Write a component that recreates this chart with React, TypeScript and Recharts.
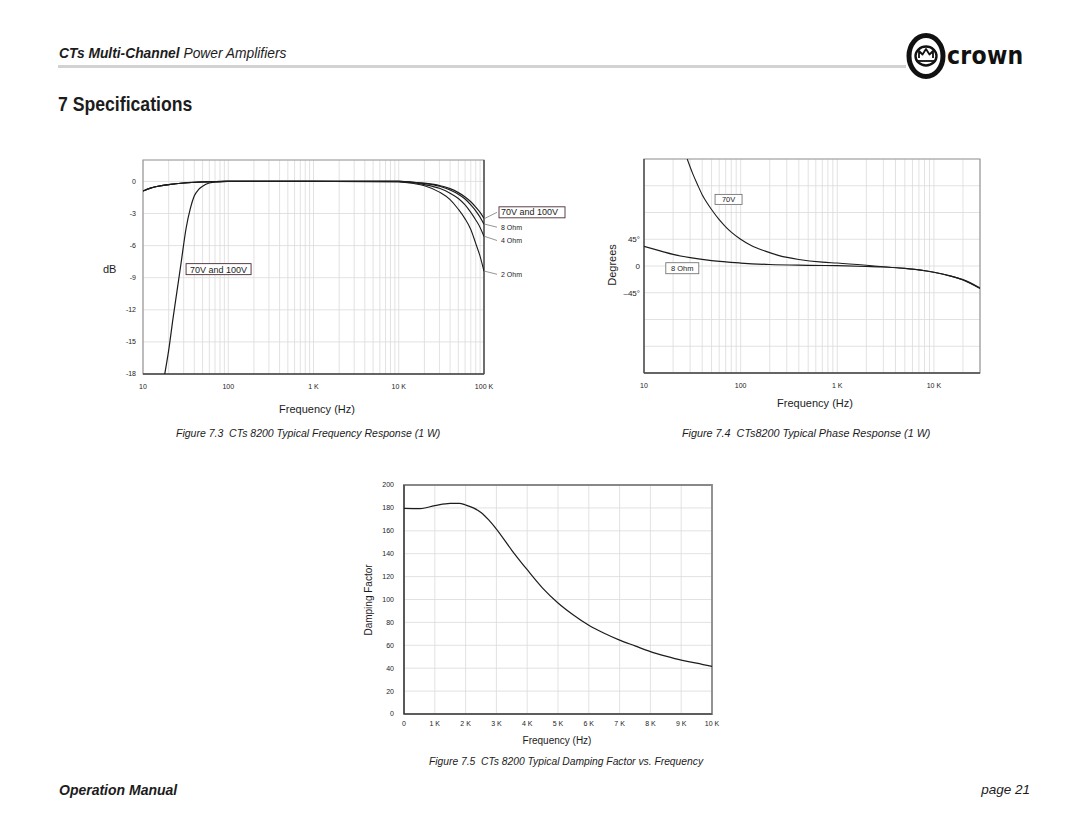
import { LineChart, Line, XAxis, YAxis, CartesianGrid, ReferenceArea, ReferenceDot, ReferenceLine } from 'recharts';

const FONT = '"Liberation Sans", Arial, Helvetica, sans-serif';
const INK = '#1c1c1c';
const GRID = '#dadada';

// Figure 7.3 - frequency response (dB)
const ohmFreq = [10, 12, 15, 20, 30, 50, 100, 1000, 10000, 15000, 20000, 30000, 40000, 50000, 60000, 70000, 80000, 90000, 100000];
const ohm8Db = [-0.9, -0.65, -0.45, -0.3, -0.15, -0.05, 0, 0, 0, -0.1, -0.2, -0.45, -0.8, -1.2, -1.65, -2.2, -2.75, -3.35, -4.0];
const ohm4Db = [-0.9, -0.65, -0.45, -0.3, -0.15, -0.05, 0, 0, 0, -0.12, -0.3, -0.65, -1.1, -1.6, -2.2, -2.9, -3.6, -4.3, -5.15];
const ohm2Db = [-0.9, -0.65, -0.45, -0.3, -0.15, -0.05, 0, 0, -0.05, -0.2, -0.4, -1.0, -1.7, -2.6, -3.5, -4.5, -5.8, -7.0, -8.4];
const v70Freq = [18, 20, 22.5, 25, 28, 32, 36, 40, 45, 50, 60, 75, 90, 1000, 10000, 15000, 20000, 30000, 40000, 50000, 60000, 70000, 80000, 90000, 100000];
const v70Db = [-18, -15.8, -12.8, -10.3, -7.6, -4.4, -2.5, -1.35, -0.75, -0.45, -0.15, -0.04, 0, 0, 0, -0.08, -0.17, -0.38, -0.68, -1.05, -1.45, -1.9, -2.4, -2.9, -3.45];
const dbTicks = [-18, -15, -12, -9, -6, -3, 0];

// Figure 7.4 - phase response (degrees)
const phase8Freq = [10, 15, 20, 30, 50, 100, 200, 500, 1000, 2000, 3000, 5000, 7000, 10000, 15000, 20000, 30000];
const phase8Deg = [33, 25, 19.5, 14, 9, 5, 2.5, 1.2, 0.5, -0.8, -1.7, -4, -6.5, -10.5, -17, -23, -37];
const phase70Freq = [28, 32, 36, 40, 45, 50, 60, 70, 80, 100, 130, 180, 250, 400, 700, 1000, 2000, 3000, 5000, 7000, 10000, 15000, 20000, 30000];
const phase70Deg = [180, 155, 136, 120, 106, 95, 78, 66, 57, 45, 34, 25, 17.5, 11, 6.5, 5, 1.2, -1.3, -4, -6.5, -10.5, -17, -23.5, -38];
const degTicks = [-180, -135, -90, -45, 0, 45, 90, 135, 180];
const degLabels: Record<string, string> = { '45': '45°', '0': '0', '-45': '–45°' };

// Figure 7.5 - damping factor
const dfFreq = [0, 500, 1000, 1500, 1800, 2000, 2250, 2500, 2750, 3000, 3500, 4000, 4500, 5000, 5500, 6000, 6500, 7000, 7500, 8000, 8500, 9000, 9500, 10000];
const dfValue = [179.5, 179.3, 182, 184, 184, 182.5, 180, 176, 169.5, 161.5, 143, 126, 110, 97, 86.5, 77.5, 70.5, 64.5, 59.5, 54.5, 50.5, 47, 44.5, 41.5];
const dfYTicks = [0, 20, 40, 60, 80, 100, 120, 140, 160, 180, 200];
const dfXTicks = [0, 1000, 2000, 3000, 4000, 5000, 6000, 7000, 8000, 9000, 10000];

const decadeLabels: Record<string, string> = { '10': '10', '100': '100', '1000': '1 K', '10000': '10 K', '100000': '100 K' };

const pts = (xs: number[], ys: number[]) => xs.map((x, i) => ({ x, y: ys[i] }));

// log gridlines 1..9 per decade
const logGrid = (from: number, to: number) => {
  const out: number[] = [];
  for (let d = from; d < to; d *= 10) {
    for (let m = 1; m < 10; m++) if (d * m <= to) out.push(d * m);
  }
  if (!out.includes(to)) out.push(to);
  return out;
};

const tickStyle = { fontSize: 7, fill: INK, fontFamily: FONT };

function Leader(props: any) {
  const { cx, cy, dy, text, boxed } = props;
  const tx = cx + 16;
  const ty = cy + dy;
  return (
    <g>
      <line x1={cx + 1} y1={cy} x2={cx + 13} y2={ty} stroke="#666" strokeWidth={0.7} />
      {boxed && <rect x={tx - 1} y={ty - 5.5} width={66} height={11} fill="#fff" stroke="#4b2a35" strokeWidth={0.9} />}
      <text x={tx + 1} y={ty} dominantBaseline="central" fontSize={boxed ? 9 : 7} fill={INK} fontFamily={FONT}>{text}</text>
    </g>
  );
}

function BoxLabel(props: any) {
  const { cx, cy, w, h, text, size, border } = props;
  return (
    <g>
      <rect x={cx - w / 2} y={cy - h / 2} width={w} height={h} fill="#fff" stroke={border} strokeWidth={0.9} />
      <text x={cx} y={cy + 0.5} textAnchor="middle" dominantBaseline="central" fontSize={size} fill={INK} fontFamily={FONT}>{text}</text>
    </g>
  );
}

function ResponseChart() {
  const grid = logGrid(10, 100000);
  return (
    <LineChart width={490} height={270} margin={{ top: 10, right: 106, bottom: 26, left: 3 }}>
      <CartesianGrid stroke={GRID} strokeWidth={0.8} />
      <XAxis type="number" dataKey="x" scale="log" domain={[10, 100000]} ticks={grid} interval={0}
        tickFormatter={(v) => decadeLabels[String(v)] ?? ''} tickLine={false} axisLine={false}
        tickSize={0} tickMargin={10} height={20} tick={tickStyle} allowDataOverflow />
      <YAxis type="number" domain={[-18, 2]} ticks={dbTicks} interval={0} width={40} tickLine={false}
        axisLine={false} tickSize={0} tickMargin={7} tick={tickStyle} allowDataOverflow />
      <ReferenceArea x1={10} x2={100000} y1={-18} y2={2} fill="none" stroke="#999" strokeWidth={1.2} />
      <ReferenceLine y={-18} stroke="#444" strokeWidth={1.3} />
      <ReferenceLine x={100000} stroke="#444" strokeWidth={1.3} />
      <Line data={pts(ohmFreq, ohm2Db)} dataKey="y" type="monotone" stroke={INK} strokeWidth={1.1} dot={false} isAnimationActive={false} />
      <Line data={pts(ohmFreq, ohm4Db)} dataKey="y" type="monotone" stroke={INK} strokeWidth={1.1} dot={false} isAnimationActive={false} />
      <Line data={pts(ohmFreq, ohm8Db)} dataKey="y" type="monotone" stroke={INK} strokeWidth={1.2} dot={false} isAnimationActive={false} />
      <Line data={pts(v70Freq, v70Db)} dataKey="y" type="monotone" stroke={INK} strokeWidth={1.2} dot={false} isAnimationActive={false} />
      <ReferenceDot x={77} y={-8.2} shape={(p: any) => <BoxLabel {...p} w={65} h={11} size={9} text="70V and 100V" border="#4b2a35" />} />
      <ReferenceDot x={100000} y={v70Db[v70Db.length - 1]} shape={(p: any) => <Leader {...p} dy={-6} text="70V and 100V" boxed />} />
      <ReferenceDot x={100000} y={ohm8Db[ohm8Db.length - 1]} shape={(p: any) => <Leader {...p} dy={3} text="8 Ohm" />} />
      <ReferenceDot x={100000} y={ohm4Db[ohm4Db.length - 1]} shape={(p: any) => <Leader {...p} dy={4} text="4 Ohm" />} />
      <ReferenceDot x={100000} y={ohm2Db[ohm2Db.length - 1]} shape={(p: any) => <Leader {...p} dy={3} text="2 Ohm" />} />
    </LineChart>
  );
}

function PhaseChart() {
  const grid = logGrid(10, 30000);
  return (
    <LineChart width={390} height={265} margin={{ top: 9, right: 10, bottom: 22, left: 4 }}>
      <CartesianGrid stroke={GRID} strokeWidth={0.8} />
      <XAxis type="number" dataKey="x" scale="log" domain={[10, 30000]} ticks={grid} interval={0}
        tickFormatter={(v) => decadeLabels[String(v)] ?? ''} tickLine={false} axisLine={false}
        tickSize={0} tickMargin={10} height={20} tick={tickStyle} allowDataOverflow />
      <YAxis type="number" domain={[-180, 180]} ticks={degTicks} interval={0} width={40} tickLine={false}
        axisLine={false} tickSize={0} tickMargin={4} tick={{ ...tickStyle, fontSize: 8 }}
        tickFormatter={(v) => degLabels[String(v)] ?? ''} allowDataOverflow />
      <ReferenceArea x1={10} x2={30000} y1={-180} y2={180} fill="none" stroke="#999" strokeWidth={1.2} />
      <ReferenceLine y={-180} stroke="#444" strokeWidth={1.3} />
      <ReferenceLine x={10} stroke="#444" strokeWidth={1.3} />
      <Line data={pts(phase8Freq, phase8Deg)} dataKey="y" type="monotone" stroke={INK} strokeWidth={1.2} dot={false} isAnimationActive={false} />
      <Line data={pts(phase70Freq, phase70Deg)} dataKey="y" type="monotone" stroke={INK} strokeWidth={1.1} dot={false} isAnimationActive={false} />
      <ReferenceDot x={75} y={112} shape={(p: any) => <BoxLabel {...p} w={27} h={10} size={7.5} text="70V" border="#777" />} />
      <ReferenceDot x={24.9} y={-3.7} shape={(p: any) => <BoxLabel {...p} w={33} h={11} size={7.5} text="8 Ohm" border="#777" />} />
    </LineChart>
  );
}

function DampingChart() {
  return (
    <LineChart width={370} height={265} margin={{ top: 10, right: 18, bottom: 6, left: 4 }}>
      <CartesianGrid stroke={GRID} strokeWidth={0.8} />
      <XAxis type="number" dataKey="x" domain={[0, 10000]} ticks={dfXTicks} interval={0}
        tickFormatter={(v) => (v === 0 ? '0' : `${v / 1000} K`)} tickLine={false} axisLine={false}
        tickSize={0} tickMargin={7} height={20} tick={tickStyle} allowDataOverflow />
      <YAxis type="number" domain={[0, 200]} ticks={dfYTicks} interval={0} width={40} tickLine={false}
        axisLine={false} tickSize={0} tickMargin={10} tick={tickStyle} allowDataOverflow />
      <ReferenceArea x1={0} x2={10000} y1={0} y2={200} fill="none" stroke="#888" strokeWidth={1.8} />
      <ReferenceLine y={0} stroke="#333" strokeWidth={1.2} />
      <ReferenceLine x={0} stroke="#333" strokeWidth={1.2} />
      <Line data={pts(dfFreq, dfValue)} dataKey="y" type="monotone" stroke={INK} strokeWidth={1.2} dot={false} isAnimationActive={false} />
    </LineChart>
  );
}

function Txt({ x, y, size, children, style, anchor = 'left' }: any) {
  const tx = anchor === 'center' ? 'translate(-50%, -50%)' : anchor === 'right' ? 'translate(-100%, -50%)' : 'translate(0, -50%)';
  return (
    <div style={{ position: 'absolute', left: x, top: y, fontSize: size, whiteSpace: 'nowrap', transform: tx, color: INK, lineHeight: 1, ...style }}>
      {children}
    </div>
  );
}

function Logo() {
  return (
    <svg width={140} height={48} style={{ position: 'absolute', left: 902, top: 32 }}>
      <ellipse cx={24} cy={24} rx={17} ry={20.5} fill="#fff" stroke="#111" strokeWidth={5} />
      <ellipse cx={24} cy={24} rx={10.5} ry={9.5} fill="none" stroke="#111" strokeWidth={2.4} />
      <polyline points="17,26 17,19 20.5,22.5 24,17 27.5,22.5 31,19 31,26" fill="none" stroke="#111" strokeWidth={1.8} strokeLinejoin="round" />
      <line x1={16} y1={29} x2={32} y2={29} stroke="#111" strokeWidth={1.8} />
      <text x={45} y={32} fontSize={24} fontWeight="bold" fontFamily='"DejaVu Sans", sans-serif' fill="#111" letterSpacing={0.3}
        transform="translate(45 32) scale(0.92 1) translate(-45 -32)">crown</text>
    </svg>
  );
}

export default function App() {
  return (
    <div style={{ position: 'absolute', left: 0, top: 0, width: 1080, height: 834, background: '#fff', fontFamily: FONT, overflow: 'hidden' }}>
      <Txt x={59} y={54} size={13.8} style={{ fontStyle: 'italic' }}>
        <b>CTs Multi-Channel</b> Power Amplifiers
      </Txt>
      <div style={{ position: 'absolute', left: 58, top: 65, width: 848, height: 3, background: '#d2d2d2' }} />
      <Logo />
      <Txt x={58} y={103} size={21} style={{ fontWeight: 'bold', transform: 'translate(0,-50%) scaleX(0.84)', transformOrigin: 'left center' }}>
        7 Specifications
      </Txt>

      <div style={{ position: 'absolute', left: 100, top: 150 }}>
        <ResponseChart />
      </div>
      <Txt x={103} y={269} size={11}>dB</Txt>
      <Txt x={317} y={409} size={11} anchor="center">Frequency (Hz)</Txt>
      <Txt x={176} y={433} size={10.5} style={{ fontStyle: 'italic' }}>Figure 7.3&nbsp;&nbsp;CTs 8200 Typical Frequency Response (1 W)</Txt>

      <div style={{ position: 'absolute', left: 600, top: 150 }}>
        <PhaseChart />
      </div>
      <Txt x={612} y={265} size={11} anchor="center" style={{ transform: 'translate(-50%,-50%) rotate(-90deg)' }}>Degrees</Txt>
      <Txt x={815} y={403} size={11} anchor="center">Frequency (Hz)</Txt>
      <Txt x={682} y={433} size={10.8} style={{ fontStyle: 'italic' }}>Figure 7.4&nbsp;&nbsp;CTs8200 Typical Phase Response (1 W)</Txt>

      <div style={{ position: 'absolute', left: 360, top: 475 }}>
        <DampingChart />
      </div>
      <Txt x={369} y={600} size={10} anchor="center" style={{ transform: 'translate(-50%,-50%) rotate(-90deg)' }}>Damping Factor</Txt>
      <Txt x={557} y={741} size={10} anchor="center">Frequency (Hz)</Txt>
      <Txt x={566} y={762} size={10.3} anchor="center" style={{ fontStyle: 'italic' }}>Figure 7.5&nbsp;&nbsp;CTs 8200 Typical Damping Factor vs. Frequency</Txt>

      <Txt x={59} y={790} size={14} style={{ fontStyle: 'italic', fontWeight: 'bold' }}>Operation Manual</Txt>
      <Txt x={1030} y={790} size={13.5} anchor="right" style={{ fontStyle: 'italic' }}>page 21</Txt>
    </div>
  );
}
